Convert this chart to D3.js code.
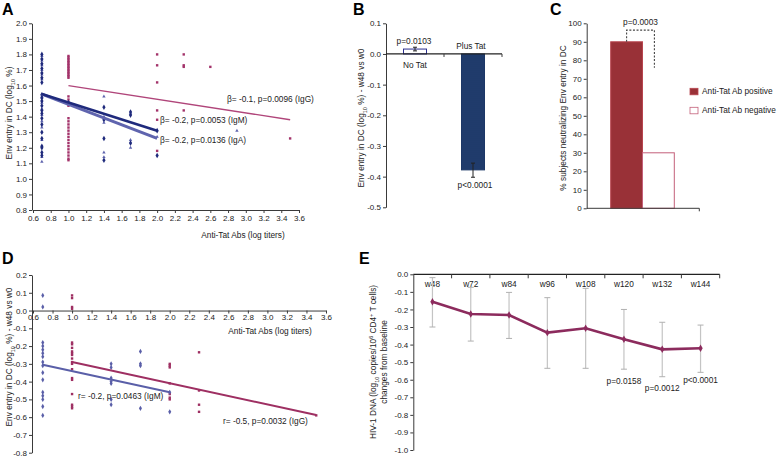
<!DOCTYPE html>
<html><head><meta charset="utf-8">
<script src="https://cdn.jsdelivr.net/npm/d3@7"></script>
<style>
body{margin:0;background:#fff;}
svg{display:block;font-family:"Liberation Sans",Arial,sans-serif;}
</style></head><body>
<svg id="chart" width="778" height="457"></svg>
<script>
// ---------------- DATA ----------------
// Panel A: Env entry in DC vs anti-Tat Abs
const aXTicks = [0.6,0.8,1.0,1.2,1.4,1.6,1.8,2.0,2.2,2.4,2.6,2.8,3.0,3.2,3.4,3.6];
const aYTicks = [0.8,0.9,1.0,1.1,1.2,1.3,1.4,1.5,1.6,1.7,1.8,1.9,2.0];
const aIgG = [
  [1.0,1.79],[1.0,1.78],[1.0,1.77],[1.0,1.76],[1.0,1.75],[1.0,1.74],[1.0,1.73],[1.0,1.72],[1.0,1.71],[1.0,1.70],
  [1.0,1.69],[1.0,1.68],[1.0,1.67],[1.0,1.66],[1.0,1.65],[1.0,1.53],[1.0,1.51],[1.0,1.49],[1.0,1.47],[1.0,1.39],
  [1.0,1.37],[1.0,1.35],[1.0,1.33],[1.0,1.31],[1.0,1.29],[1.0,1.27],[1.0,1.25],[1.0,1.23],[1.0,1.21],[1.0,1.19],
  [1.0,1.17],[1.0,1.15],[1.0,1.13],[1.0,1.12],
  [2.0,1.80],[2.0,1.73],[2.0,1.62],[2.0,1.44],[2.0,1.38],[2.0,1.18],
  [2.3,1.80],[2.3,1.73],[2.3,1.72],[2.3,1.44],[2.6,1.72],[3.5,1.26]
];
const aIgM = [
  [0.7,1.80],[0.7,1.77],[0.7,1.74],[0.7,1.71],[0.7,1.68],[0.7,1.65],[0.7,1.62],[0.7,1.54],[0.7,1.52],[0.7,1.50],
  [0.7,1.47],[0.7,1.44],[0.7,1.42],[0.7,1.39],[0.7,1.35],[0.7,1.30],[0.7,1.26],[0.7,1.21],[0.7,1.20],[0.7,1.17],[0.7,1.15],
  [1.0,1.49],[1.4,1.46],[1.4,1.38],[1.4,1.26],[1.4,1.12],[1.7,1.43],[1.7,1.41],[1.7,1.23],[2.0,1.31],[2.0,1.15]
];
const aIgA = [
  [0.7,1.79],[0.7,1.76],[0.7,1.73],[0.7,1.70],[0.7,1.67],[0.7,1.64],[0.7,1.53],[0.7,1.49],[0.7,1.45],[0.7,1.41],
  [0.7,1.37],[0.7,1.33],[0.7,1.25],[0.7,1.14],[0.7,1.11],
  [1.0,1.48],[1.4,1.53],[1.4,1.40],[1.4,1.36],[1.4,1.17],[1.4,1.14],[1.7,1.42],[1.7,1.25],[1.7,1.20],[2.0,1.27],[2.9,1.31]
];
const aIgGFit = [[1.0,1.60],[3.5,1.38]];
const aIgMFit = [[0.7,1.545],[2.0,1.31]];
const aIgAFit = [[0.7,1.545],[2.0,1.26]];
const aLabels = ["\u03b2= -0.1, p=0.0096 (IgG)","\u03b2= -0.2, p=0.0053 (IgM)","\u03b2= -0.2, p=0.0136 (IgA)"];

// Panel B
const bCategories = ["No Tat","Plus Tat"];
const bValues = [0.016,-0.378];
const bErrHigh = [0.022,-0.356];
const bErrLow = [0.010,-0.402];
const bPLabels = ["p=0.0103","p<0.0001"];
const bYTicks = [0.1,0.0,-0.1,-0.2,-0.3,-0.4,-0.5];

// Panel C
const cCategories = ["Anti-Tat Ab positive","Anti-Tat Ab negative"];
const cValues = [90,30];
const cYTicks = [0,10,20,30,40,50,60,70,80,90,100];
const cPLabel = "p=0.0003";

// Panel D
const dXTicks = aXTicks;
const dYTicks = [0.2,0.1,0.0,-0.1,-0.2,-0.3,-0.4,-0.5,-0.6,-0.7,-0.8];
const dIgG = [
  [1.0,0.085],[1.0,0.07],[1.0,0.02],[1.0,0.01],[1.0,-0.18],[1.0,-0.19],[1.0,-0.21],[1.0,-0.23],[1.0,-0.24],[1.0,-0.25],
  [1.0,-0.27],[1.0,-0.29],[1.0,-0.30],[1.0,-0.33],[1.0,-0.38],[1.0,-0.39],[1.0,-0.47],[1.0,-0.53],[1.0,-0.54],[1.0,-0.55],
  [2.0,-0.30],[2.0,-0.31],[2.0,-0.32],[2.0,-0.41],[2.0,-0.47],[2.0,-0.49],[2.0,-0.50],
  [2.3,-0.235],[2.3,-0.45],[2.3,-0.53],[2.3,-0.57],[3.5,-0.59]
];
const dIgM = [
  [0.7,0.085],[0.7,0.02],[0.7,-0.18],[0.7,-0.20],[0.7,-0.22],[0.7,-0.24],[0.7,-0.26],[0.7,-0.29],[0.7,-0.31],[0.7,-0.35],
  [0.7,-0.39],[0.7,-0.46],[0.7,-0.48],[0.7,-0.50],[0.7,-0.54],[0.7,-0.59],
  [1.4,-0.30],[1.4,-0.32],[1.4,-0.38],[1.4,-0.40],[1.4,-0.41],[1.4,-0.50],[1.4,-0.53],
  [1.7,-0.23],[1.7,-0.30],[1.7,-0.31],[1.7,-0.55],[2.0,-0.46],[2.0,-0.57]
];
const dIgGFit = [[1.0,-0.29],[3.5,-0.588]];
const dIgMFit = [[0.7,-0.305],[2.0,-0.46]];
const dLabels = ["r= -0.2, p=0.0463 (IgM)","r= -0.5, p=0.0032 (IgG)"];

// Panel E
const eWeeks = ["w48","w72","w84","w96","w108","w120","w132","w144"];
const eMeans = [-0.156,-0.226,-0.232,-0.332,-0.307,-0.370,-0.427,-0.421];
const eUpper = [-0.019,-0.074,-0.103,-0.133,-0.080,-0.200,-0.273,-0.289];
const eLower = [-0.300,-0.380,-0.365,-0.535,-0.535,-0.540,-0.583,-0.558];
const ePLabels = ["","","","","","p=0.0158","p=0.0012","p<0.0001"];
const eYTicks = [0.0,-0.1,-0.2,-0.3,-0.4,-0.5,-0.6,-0.7,-0.8,-0.9,-1.0];

// ---------------- DRAW ----------------
const svg = d3.select("#chart");
const AX = "#3a3a3a", TXT = "#222";
const cIgG = "#a3336a", cIgM = "#1f2a7c", cIgA = "#5f64ae";
const fmt = d => (Math.abs(d) < 1e-9 ? 0 : d).toFixed(1);

function style(g, fs) {
  g.attr("font-family", null).attr("font-size", fs || 8);
  g.selectAll("path,line").attr("stroke", AX);
  g.selectAll("text").attr("fill", TXT);
  return g;
}
function panelLabel(t, x, y) {
  svg.append("text").attr("x", x).attr("y", y).attr("font-size", 16).attr("font-weight", "bold").attr("fill", "#000").text(t);
}
function vTitle(x, y, parts, fs) {
  const t = svg.append("text").attr("transform", `translate(${x},${y}) rotate(-90)`)
    .attr("text-anchor", "middle").attr("font-size", fs || 8.3).attr("fill", TXT);
  parts.forEach(p => {
    const s = t.append("tspan").text(p[0]);
    if (p[1] === "sub") s.attr("baseline-shift", "sub").attr("font-size", 5.5);
    if (p[1] === "sup") s.attr("baseline-shift", "super").attr("font-size", 5.5);
  });
  return t;
}
function sq(g, data, x, y, color, s) {
  g.selectAll(null).data(data).enter().append("rect")
    .attr("x", d => x(d[0]) - s / 2).attr("y", d => y(d[1]) - s / 2)
    .attr("width", s).attr("height", s).attr("fill", color);
}
function sym(g, data, x, y, color, type, size) {
  g.selectAll(null).data(data).enter().append("path")
    .attr("d", d3.symbol().type(type).size(size))
    .attr("transform", d => `translate(${x(d[0])},${y(d[1])})`).attr("fill", color);
}
function fit(g, data, x, y, color, w) {
  g.append("path").attr("d", d3.line().x(d => x(d[0])).y(d => y(d[1]))(data))
    .attr("stroke", color).attr("stroke-width", w).attr("fill", "none");
}

// ===== Panel A =====
{
  const x = d3.scaleLinear().domain([0.6, 3.6]).range([33, 299]);
  const y = d3.scaleLinear().domain([0.8, 2.0]).range([210, 23.3]);
  const g = svg.append("g");
  style(g.append("g").attr("transform", "translate(32,0)")
    .call(d3.axisLeft(y).tickValues(aYTicks).tickFormat(fmt).tickSize(3).tickSizeOuter(0).tickPadding(2)));
  style(g.append("g").attr("transform", "translate(0,210)")
    .call(d3.axisBottom(x).tickValues(aXTicks).tickFormat(fmt).tickSize(3).tickSizeOuter(0).tickPadding(2)));
  sq(g, aIgG, x, y, cIgG, 2.4);
  sym(g, aIgA, x, y, cIgA, d3.symbolTriangle, 5);
  sym(g, aIgM, x, y, cIgM, d3.symbolDiamond, 9);
  fit(g, aIgGFit, x, y, "#b0457a", 1.3);
  fit(g, aIgAFit, x, y, cIgA, 3);
  fit(g, aIgMFit, x, y, cIgM, 2.6);
  const lt = [[227, 102], [160, 123], [160, 143]];
  aLabels.forEach((t, i) => g.append("text").attr("x", lt[i][0]).attr("y", lt[i][1]).attr("font-size", 8.3).attr("fill", TXT).text(t));
  vTitle(12, 113, [["Env entry in DC (log"], ["10", "sub"], [" %)"]]);
  g.append("text").attr("x", 243).attr("y", 238).attr("text-anchor", "middle").attr("font-size", 8.3).attr("fill", TXT).text("Anti-Tat Abs (log titers)");
  panelLabel("A", 2, 14.5);
}

// ===== Panel B =====
{
  const y = d3.scaleLinear().domain([-0.5, 0.1]).range([207.3, 23.3]);
  const x = d3.scaleBand().domain(bCategories).range([386, 502]).paddingInner(0);
  const bw = 23;
  const defs = svg.append("defs");
  const pat = defs.append("pattern").attr("id", "dots").attr("width", 2).attr("height", 2).attr("patternUnits", "userSpaceOnUse");
  pat.append("rect").attr("width", 2).attr("height", 2).attr("fill", "#1c3767");
  pat.append("circle").attr("cx", 1).attr("cy", 1).attr("r", 0.45).attr("fill", "#35558a");
  const g = svg.append("g");
  style(g.append("g").attr("transform", "translate(386,0)")
    .call(d3.axisLeft(y).tickValues(bYTicks).tickFormat(fmt).tickSize(3).tickSizeOuter(0).tickPadding(2)));
  bCategories.forEach((c, i) => {
    const cx = x(c) + x.bandwidth() / 2;
    const v = bValues[i];
    g.append("rect").attr("x", cx - bw / 2).attr("width", bw)
      .attr("y", Math.min(y(v), y(0))).attr("height", Math.abs(y(v) - y(0)))
      .attr("fill", i === 0 ? "#fff" : "url(#dots)").attr("stroke", i === 0 ? "#2b2f8f" : "#1c3767").attr("stroke-width", 1);
    g.append("line").attr("x1", cx).attr("x2", cx).attr("y1", y(bErrHigh[i])).attr("y2", y(bErrLow[i])).attr("stroke", "#222").attr("stroke-width", 1);
    [bErrHigh[i], bErrLow[i]].forEach(e => g.append("line").attr("x1", cx - 2).attr("x2", cx + 2).attr("y1", y(e)).attr("y2", y(e)).attr("stroke", "#222"));
  });
  // x axis at zero
  g.append("line").attr("x1", 386).attr("x2", 502).attr("y1", y(0)).attr("y2", y(0)).attr("stroke", "#222").attr("stroke-width", 1.2);
  bCategories.forEach(c => g.append("line").attr("x1", x(c) + x.bandwidth()).attr("x2", x(c) + x.bandwidth())
    .attr("y1", y(0)).attr("y2", y(0) + 3).attr("stroke", AX));
  const c0 = x(bCategories[0]) + x.bandwidth() / 2, c1 = x(bCategories[1]) + x.bandwidth() / 2;
  g.append("text").attr("x", c0).attr("y", 68).attr("text-anchor", "middle").attr("font-size", 8.3).attr("fill", TXT).text(bCategories[0]);
  g.append("text").attr("x", c1 - 2).attr("y", 48.5).attr("text-anchor", "middle").attr("font-size", 8.3).attr("fill", TXT).text(bCategories[1]);
  g.append("text").attr("x", c0 - 1).attr("y", 43.5).attr("text-anchor", "middle").attr("font-size", 8.3).attr("fill", TXT).text(bPLabels[0]);
  g.append("text").attr("x", c1 + 2).attr("y", y(bErrLow[1]) + 11).attr("text-anchor", "middle").attr("font-size", 8.3).attr("fill", TXT).text(bPLabels[1]);
  vTitle(364, 118, [["Env entry in DC (log"], ["10", "sub"], [" %) - w48 vs w0"]]);
  panelLabel("B", 353, 15);
}

// ===== Panel C =====
{
  const y = d3.scaleLinear().domain([0, 100]).range([208.3, 23.3]);
  const x = d3.scaleBand().domain(cCategories).range([610.7, 674.3]).paddingInner(0);
  const g = svg.append("g");
  style(g.append("g").attr("transform", "translate(586.7,0)")
    .call(d3.axisLeft(y).tickValues(cYTicks).tickSize(3).tickSizeOuter(0).tickPadding(2)));
  const fills = ["#993137", "#fff"], strokes = ["#b8454f", "#c4607a"];
  cCategories.forEach((c, i) => {
    g.append("rect").attr("x", x(c)).attr("width", x.bandwidth()).attr("y", y(cValues[i]))
      .attr("height", y(0) - y(cValues[i])).attr("fill", fills[i]).attr("stroke", strokes[i]).attr("stroke-width", 1);
  });
  g.append("line").attr("x1", 586.7).attr("x2", 699.3).attr("y1", y(0)).attr("y2", y(0)).attr("stroke", AX);
  g.append("line").attr("x1", 699.3).attr("x2", 699.3).attr("y1", y(0)).attr("y2", y(0) + 3).attr("stroke", AX);
  const xa = x(cCategories[0]) + x.bandwidth() / 2, xb = x(cCategories[1]) + x.bandwidth() / 2 - 4;
  g.append("path").attr("d", `M${xa},${y(cValues[0])}V${y(96.3)}H${xb}V${y(76)}`)
    .attr("fill", "none").attr("stroke", "#444").attr("stroke-width", 1.1).attr("stroke-dasharray", "2,1.6");
  g.append("text").attr("x", (xa + xb) / 2).attr("y", 24.5).attr("text-anchor", "middle").attr("font-size", 8.3).attr("fill", TXT).text(cPLabel);
  const ly = [88.3, 107.3];
  cCategories.forEach((c, i) => {
    g.append("rect").attr("x", 690).attr("y", ly[i]).attr("width", 8).attr("height", 6.5)
      .attr("fill", fills[i]).attr("stroke", strokes[i]).attr("stroke-width", 0.8);
    g.append("text").attr("x", 702).attr("y", ly[i] + 6).attr("font-size", 8.3).attr("fill", TXT).text(c);
  });
  vTitle(566, 118, [["% subjects neutralizing Env entry in DC"]]);
  panelLabel("C", 550, 15);
}

// ===== Panel D =====
{
  const x = d3.scaleLinear().domain([0.6, 3.6]).range([33, 326]);
  const y = d3.scaleLinear().domain([-0.8, 0.2]).range([452.7, 275]);
  const g = svg.append("g");
  style(g.append("g").attr("transform", "translate(32,0)")
    .call(d3.axisLeft(y).tickValues(dYTicks).tickFormat(fmt).tickSize(3).tickSizeOuter(0).tickPadding(2)));
  style(g.append("g").attr("transform", `translate(0,${y(0)})`)
    .call(d3.axisBottom(x).tickValues(dXTicks).tickFormat(fmt).tickSize(3).tickSizeOuter(0).tickPadding(1)));
  const cDM = "#5a5fa8", cDG = "#9e2f62";
  sq(g, dIgG, x, y, cDG, 2.4);
  sym(g, dIgM, x, y, cDM, d3.symbolDiamond, 8);
  fit(g, dIgMFit, x, y, cDM, 2);
  fit(g, dIgGFit, x, y, cDG, 2);
  g.append("text").attr("x", 78).attr("y", 398.5).attr("font-size", 8.3).attr("fill", TXT).text(dLabels[0]);
  g.append("text").attr("x", 223).attr("y", 423.5).attr("font-size", 8.3).attr("fill", TXT).text(dLabels[1]);
  g.append("text").attr("x", 270).attr("y", 333.5).attr("text-anchor", "middle").attr("font-size", 8.3).attr("fill", TXT).text("Anti-Tat Abs (log titers)");
  vTitle(12, 357, [["Env entry in DC (log"], ["10", "sub"], [" %) - w48 vs w0"]]);
  panelLabel("D", 2, 263.5);
}

// ===== Panel E =====
{
  const y = d3.scaleLinear().domain([-1.0, 0.0]).range([450, 274.3]);
  const x = d3.scaleBand().domain(eWeeks).range([413.3, 719.7]).paddingInner(0);
  const g = svg.append("g");
  style(g.append("g").attr("transform", "translate(413.3,0)")
    .call(d3.axisLeft(y).tickValues(eYTicks).tickFormat(fmt).tickSize(3).tickSizeOuter(0).tickPadding(2)));
  g.append("line").attr("x1", 413.3).attr("x2", 719.7).attr("y1", y(0)).attr("y2", y(0)).attr("stroke", "#222").attr("stroke-width", 1.2);
  eWeeks.forEach(w => {
    const bx = x(w) + x.bandwidth();
    g.append("line").attr("x1", bx).attr("x2", bx).attr("y1", y(0)).attr("y2", y(0) + 4).attr("stroke", AX);
    g.append("text").attr("x", x(w) + x.bandwidth() / 2).attr("y", 286.5).attr("text-anchor", "middle").attr("font-size", 8.3).attr("fill", TXT).text(w);
  });
  const cx = w => x(w) + x.bandwidth() / 2;
  eWeeks.forEach((w, i) => {
    g.append("line").attr("x1", cx(w)).attr("x2", cx(w)).attr("y1", y(eUpper[i])).attr("y2", y(eLower[i])).attr("stroke", "#c4c4c4").attr("stroke-width", 1.2);
    [eUpper[i], eLower[i]].forEach(e => g.append("line").attr("x1", cx(w) - 3).attr("x2", cx(w) + 3).attr("y1", y(e)).attr("y2", y(e)).attr("stroke", "#b0b0b0").attr("stroke-width", 1));
  });
  const pts = eWeeks.map((w, i) => [w, eMeans[i]]);
  g.append("path").attr("d", d3.line().x(d => cx(d[0])).y(d => y(d[1]))(pts))
    .attr("fill", "none").attr("stroke", "#8c2b5d").attr("stroke-width", 2.6);
  g.selectAll(null).data(pts).enter().append("path").attr("d", d3.symbol().type(d3.symbolDiamond).size(16))
    .attr("transform", d => `translate(${cx(d[0])},${y(d[1])})`).attr("fill", "#8c2b5d");
  eWeeks.forEach((w, i) => {
    if (!ePLabels[i]) return;
    g.append("text").attr("x", cx(w)).attr("y", y(eLower[i]) + (i === 7 ? 10.5 : 14.5)).attr("text-anchor", "middle")
      .attr("font-size", 8.3).attr("fill", TXT).text(ePLabels[i]);
  });
  vTitle(376, 362, [["HIV-1 DNA (log"], ["10", "sub"], [" copies/10"], ["6", "sup"], [" CD4"], ["+", "sup"], [" T cells)"]]);
  vTitle(387, 362, [["changes from baseline"]]);
  panelLabel("E", 359, 264);
}
</script>
</body></html>
